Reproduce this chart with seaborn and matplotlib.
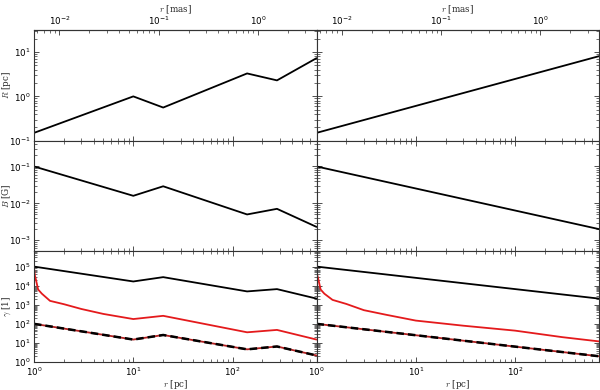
import numpy as np
import pandas as pd
import matplotlib
matplotlib.use("Agg")
import matplotlib.pyplot as plt
import seaborn as sns
from matplotlib.ticker import LogLocator

# ---------------- data ----------------
r_left = [1, 10, 20, 140, 280, 700]
R_left = [0.15, 1.0, 0.56, 3.3, 2.3, 7.3]
B_left = [0.1, 0.016, 0.029, 0.005, 0.0071, 0.0023]
gmax_left = [1e5, 1.66e4, 2.8e4, 5000, 6600, 2100]
gdash_left = [100, 15, 26, 4.6, 6.5, 2.2]

r_red_left = [1.0, 1.01, 1.02, 1.047, 1.1, 1.2, 1.45, 2, 3, 5, 10, 20, 140, 280, 700]
gred_left = [1e5, 5e4, 3.5e4, 2e4, 6300, 3800, 1600, 1070, 600, 330, 178, 263, 36, 48, 15]

r_right = [1, 700]
R_right = [0.15, 8.1]
B_right = [0.1, 0.002]
gmax_right = [1e5, 2100]
gdash_right = [100, 2.0]

r_red_right = [1.0, 1.01, 1.02, 1.047, 1.1, 1.2, 1.45, 2, 3, 5, 10, 30, 100, 300, 700]
gred_right = [1e5, 5e4, 3.5e4, 2e4, 6300, 3800, 1800, 1100, 520, 300, 148, 80, 44, 20, 12]

pc_per_mas = 180.0

# ---------------- style ----------------
sns.set_style("ticks")
plt.rcParams.update({
    "font.family": ["DejaVu Sans"],
    "xtick.direction": "in", "ytick.direction": "in",
    "xtick.top": True, "ytick.right": True,
    "xtick.major.size": 3.5, "ytick.major.size": 3.5,
    "xtick.minor.size": 2.0, "ytick.minor.size": 2.0,
    "xtick.major.width": 0.6, "ytick.major.width": 0.6,
    "xtick.minor.width": 0.5, "ytick.minor.width": 0.5,
    "xtick.major.pad": 2.5, "ytick.major.pad": 2.5,
    "xtick.color": "#333333", "ytick.color": "#333333",
    "xtick.labelcolor": "black", "ytick.labelcolor": "black",
    "axes.edgecolor": "#333333", "axes.linewidth": 0.8,
    "xtick.labelsize": 6.3, "ytick.labelsize": 6.3,
})

fig, axes = plt.subplots(3, 2, figsize=(6.0, 3.9), dpi=100, sharex=True, sharey="row")
fig.subplots_adjust(left=34/600, right=599/600, top=1-30/390, bottom=1-362/390,
                    wspace=0, hspace=0)

lab_kw = dict(fontsize=6.3, family="DejaVu Serif", math_fontfamily="cm")
LW = 1.3

cols = [
    dict(r=r_left, R=R_left, B=B_left, gmax=gmax_left, gdash=gdash_left,
         rr=r_red_left, gred=gred_left),
    dict(r=r_right, R=R_right, B=B_right, gmax=gmax_right, gdash=gdash_right,
         rr=r_red_right, gred=gred_right),
]

for j, c in enumerate(cols):
    a0, a1, a2 = axes[0, j], axes[1, j], axes[2, j]
    sns.lineplot(x=c["r"], y=c["R"], ax=a0, color="black", lw=LW)
    sns.lineplot(x=c["r"], y=c["B"], ax=a1, color="black", lw=LW)
    sns.lineplot(x=c["r"], y=c["gmax"], ax=a2, color="black", lw=LW)
    sns.lineplot(x=c["rr"], y=c["gred"], ax=a2, color="#e41a1c", lw=LW)
    sns.lineplot(x=c["r"], y=c["gdash"], ax=a2, color="#b02020", lw=LW)
    sns.lineplot(x=c["r"], y=c["gdash"], ax=a2, color="black", lw=LW + 0.5,
                 linestyle=(0, (3, 1.6)))

    for a in (a0, a1, a2):
        a.set_xscale("log")
        a.set_yscale("log")
        a.tick_params(which="both", top=True, right=True)
    a2.set_xlabel("$r$ [pc]", labelpad=0, **lab_kw)

    sec = a0.secondary_xaxis("top", functions=(lambda x: x / pc_per_mas,
                                                lambda x: x * pc_per_mas))
    sec.tick_params(which="both", direction="in", labelsize=6.3, pad=2)
    sec.set_xlabel("$r$ [mas]", labelpad=1.5, **lab_kw)
    a0.tick_params(axis="x", which="both", top=False)

axes[0, 0].set_xlim(1, 700)
axes[0, 0].set_ylim(0.1, 31.6)
axes[1, 0].set_ylim(5e-4, 0.5)
axes[2, 0].set_ylim(1, 6.3e5)

axes[0, 0].set_ylabel("$R$ [pc]", **lab_kw)
axes[1, 0].set_ylabel("$B$ [G]", **lab_kw)
axes[2, 0].set_ylabel(r"$\gamma$ [1]", **lab_kw)
for a in axes[:, 0]:
    a.yaxis.set_label_coords(-21/282, 0.5)

for a in axes[:, 1]:
    a.tick_params(axis="y", which="both", labelleft=False)

for a in axes.flat:
    a.yaxis.set_major_locator(LogLocator(base=10, numticks=20))
    a.yaxis.set_minor_locator(LogLocator(base=10, subs=np.arange(2, 10), numticks=20))

fig.savefig("out.png", dpi=100)
